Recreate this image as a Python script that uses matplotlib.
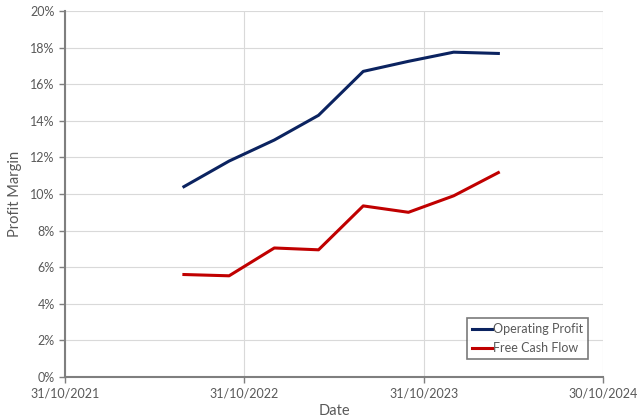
import datetime as dt
import matplotlib
matplotlib.use("Agg")
import matplotlib.pyplot as plt
import matplotlib.dates as mdates
from matplotlib.ticker import FuncFormatter

# quarterly values (%)
dates = ["2022-06-30", "2022-09-30", "2022-12-31", "2023-03-31",
         "2023-06-30", "2023-09-30", "2023-12-31", "2024-03-31"]
operating_profit = [10.4, 11.8, 12.95, 14.3, 16.7, 17.25, 17.75, 17.68]
free_cash_flow = [5.6, 5.53, 7.05, 6.95, 9.35, 9.0, 9.9, 11.17]

tick_dates = ["2021-10-31", "2022-10-31", "2023-10-31", "2024-10-30"]

plt.rcParams['font.family'] = ['Lato', 'DejaVu Sans']
grey = "#595959"

x = [dt.datetime.strptime(d, "%Y-%m-%d") for d in dates]
xt = [dt.datetime.strptime(d, "%Y-%m-%d") for d in tick_dates]

fig = plt.figure(figsize=(6.4, 4.18), dpi=100)
ax = fig.add_axes([65 / 640, 1 - 377 / 418, 538 / 640, 366 / 418])

ax.plot(x, operating_profit, color="#0b2360", lw=2.2, label="Operating Profit")
ax.plot(x, free_cash_flow, color="#c00000", lw=2.2, label="Free Cash Flow")

ax.set_xlim(xt[0], xt[-1])
ax.set_ylim(0, 20)
ax.set_xticks(xt)
ax.xaxis.set_major_formatter(mdates.DateFormatter("%d/%m/%Y"))
ax.set_yticks(range(0, 21, 2))
ax.yaxis.set_major_formatter(FuncFormatter(lambda v, p: f"{v:.0f}%"))

ax.grid(True, color="#d9d9d9", lw=0.8)
ax.set_axisbelow(True)
for s in ["top", "right"]:
    ax.spines[s].set_visible(False)
for s in ["left", "bottom"]:
    ax.spines[s].set_color("#7f7f7f")
    ax.spines[s].set_linewidth(1.5)
ax.tick_params(colors=grey, labelsize=9, length=4, width=1, direction="out")
ax.tick_params(axis="both", color="#7f7f7f")

ax.set_xlabel("Date", color=grey, fontsize=10.5, labelpad=3)
ax.set_ylabel("Profit Margin", color=grey, fontsize=10.5, labelpad=6)

leg = ax.legend(loc="lower right", bbox_to_anchor=(0.972, 0.049), fontsize=9,
                frameon=True, fancybox=False, handlelength=1.6, handletextpad=0.1,
                borderpad=0.4, labelspacing=0.55, borderaxespad=0)
leg.get_frame().set_edgecolor(grey)
leg.get_frame().set_linewidth(1.2)
for t in leg.get_texts():
    t.set_color(grey)

fig.savefig("out.png", dpi=100)
